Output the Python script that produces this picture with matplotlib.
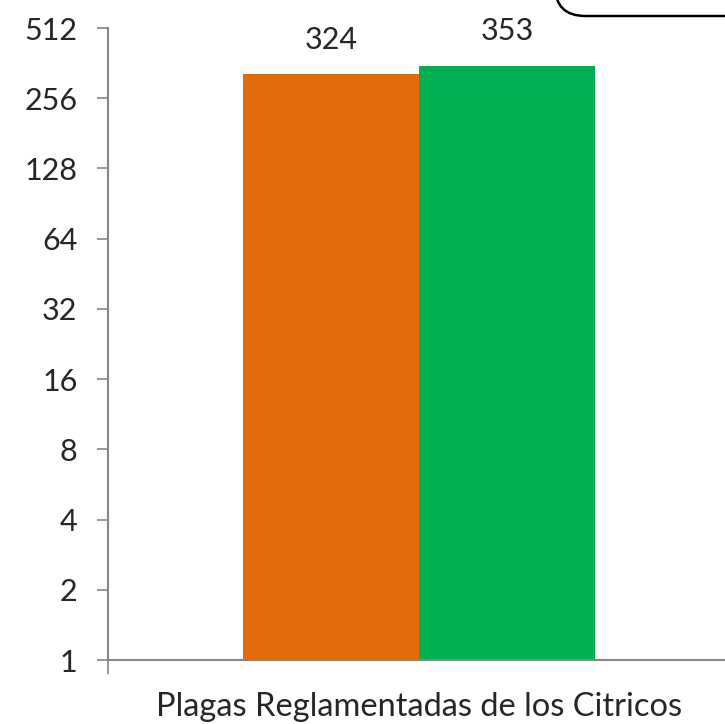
import matplotlib
matplotlib.use("Agg")
import matplotlib.pyplot as plt
from matplotlib.patches import FancyBboxPatch
from matplotlib.ticker import FixedLocator, NullLocator

categories = ["Plagas Reglamentadas de los Citricos"]
series_a = [324]
series_b = [353]
yticks = [1, 2, 4, 8, 16, 32, 64, 128, 256, 512]

plt.rcParams['font.family'] = ['Lato', 'DejaVu Sans']
fig = plt.figure(figsize=(7.25, 7.24), dpi=100)
ax = fig.add_axes([108/725, 1-660/724, 622/725, 632/724])

w = 0.283
ax.bar([-w/2], series_a, width=w, color="#E36C0A", zorder=2)
ax.bar([w/2], series_b, width=w, color="#00B050", zorder=2)
ax.set_yscale('log', base=2)
ax.set_ylim(1, 512)
ax.set_xlim(-0.5, 0.5)
ax.yaxis.set_major_locator(FixedLocator(yticks))
ax.yaxis.set_minor_locator(NullLocator())
ax.set_yticklabels([str(t) for t in yticks], fontsize=22, color="#262626")
ax.set_xticks([-0.5])
ax.set_xticklabels([""])
ax.tick_params(axis='y', length=8, width=1.2, color="#868686", pad=14)
ax.tick_params(axis='x', length=10, width=1.2, color="#868686")
for s in ['top', 'right']:
    ax.spines[s].set_visible(False)
for s in ['left', 'bottom']:
    ax.spines[s].set_color("#868686")
    ax.spines[s].set_linewidth(1.5)

for x, v in zip([-w/2, w/2], [series_a[0], series_b[0]]):
    ax.annotate(str(v), (x, v), xytext=(0, 15), textcoords='offset points',
                ha='center', va='bottom', fontsize=22, color="#262626")

ax.text(0.5, -0.05, categories[0], transform=ax.transAxes, ha='center', va='top',
        fontsize=23.5, color="#262626")

box = FancyBboxPatch((555/725, 1-16/724), 0.4, 0.2, boxstyle="round,pad=0,rounding_size=0.042",
                     transform=fig.transFigure, facecolor='white', edgecolor='black',
                     linewidth=1.8, clip_on=False)
fig.patches.append(box)

fig.savefig("out.png", dpi=100)
